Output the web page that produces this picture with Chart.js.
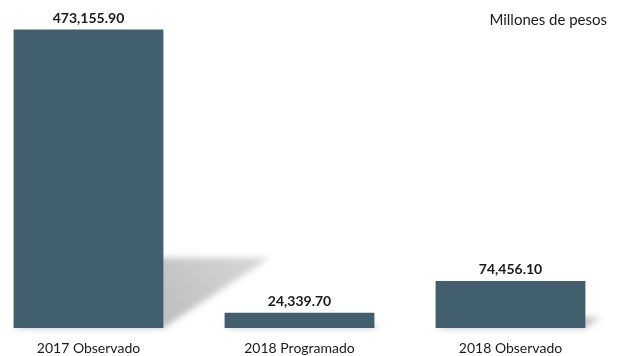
<!DOCTYPE html>
<html>
<head>
<meta charset="utf-8">
<script src="https://cdn.jsdelivr.net/npm/chart.js@4/dist/chart.umd.min.js"></script>
<style>
  html, body { margin: 0; padding: 0; background: #fff; overflow: hidden; }
  #wrap { position: absolute; left: -17px; top: 0; width: 650px; height: 356px; }
</style>
</head>
<body>
<div id="wrap"><canvas id="chart" width="650" height="356"></canvas></div>
<script>
const categories = ["2017 Observado", "2018 Programado", "2018 Observado"];
const amounts = [473155.90, 24339.70, 74456.10];
const unitsLabel = "Millones de pesos";

const barColor = "#425f6d";
const fontFamily = "Lato, 'Open Sans', sans-serif";

const fmt = v => v.toLocaleString("en-US", { minimumFractionDigits: 2, maximumFractionDigits: 2 });

// soft slanted shadow cast to the right of each bar
const barShadows = {
  id: "barShadows",
  beforeDatasetsDraw(chart) {
    const ctx = chart.ctx;
    chart.getDatasetMeta(0).data.forEach(bar => {
      const { x, y, base, width } = bar.getProps(["x", "y", "base", "width"], true);
      const h = base - y;
      const left = x - width / 2, right = x + width / 2;
      const sh = h * 0.235, dx = h * 0.356;
      ctx.save();
      ctx.filter = "blur(3px)";
      const g = ctx.createLinearGradient(right, base, right + dx, base - sh);
      g.addColorStop(0, "#bdbdbd");
      g.addColorStop(1, "#d9d9d9");
      ctx.fillStyle = g;
      ctx.beginPath();
      ctx.moveTo(left, base);
      ctx.lineTo(right, base);
      ctx.lineTo(right + dx, base - sh);
      ctx.lineTo(left + dx, base - sh);
      ctx.closePath();
      ctx.fill();
      ctx.restore();
    });
  }
};

// value above each bar plus the units note
const barLabels = {
  id: "barLabels",
  afterDatasetsDraw(chart) {
    const ctx = chart.ctx;
    ctx.save();
    ctx.fillStyle = "#1a1a1a";
    ctx.font = "bold 14px " + fontFamily;
    ctx.textAlign = "center";
    ctx.textBaseline = "alphabetic";
    chart.getDatasetMeta(0).data.forEach((bar, i) => {
      ctx.fillText(fmt(amounts[i]), bar.x, bar.y - 7);
    });
    ctx.font = "15px " + fontFamily;
    ctx.textAlign = "right";
    ctx.fillText(unitsLabel, chart.chartArea.right - 9, 25);
    ctx.restore();
  }
};

new Chart(document.getElementById("chart"), {
  type: "bar",
  data: {
    labels: categories,
    datasets: [{
      data: amounts,
      backgroundColor: barColor,
      barPercentage: 0.71,
      categoryPercentage: 1
    }]
  },
  options: {
    responsive: false,
    animation: false,
    layout: { padding: { left: 0, right: 17, top: 0, bottom: 0 } },
    plugins: {
      legend: { display: false },
      tooltip: { enabled: false }
    },
    scales: {
      x: {
        grid: { display: false, drawTicks: false },
        border: { display: false },
        ticks: {
          color: "#1a1a1a",
          font: { family: fontFamily, size: 14 },
          padding: 12,
          maxRotation: 0
        },
        afterFit: s => { s.height = 28; }
      },
      y: {
        display: false,
        min: 0,
        max: 520000
      }
    }
  },
  plugins: [barShadows, barLabels]
});
</script>
</body>
</html>
